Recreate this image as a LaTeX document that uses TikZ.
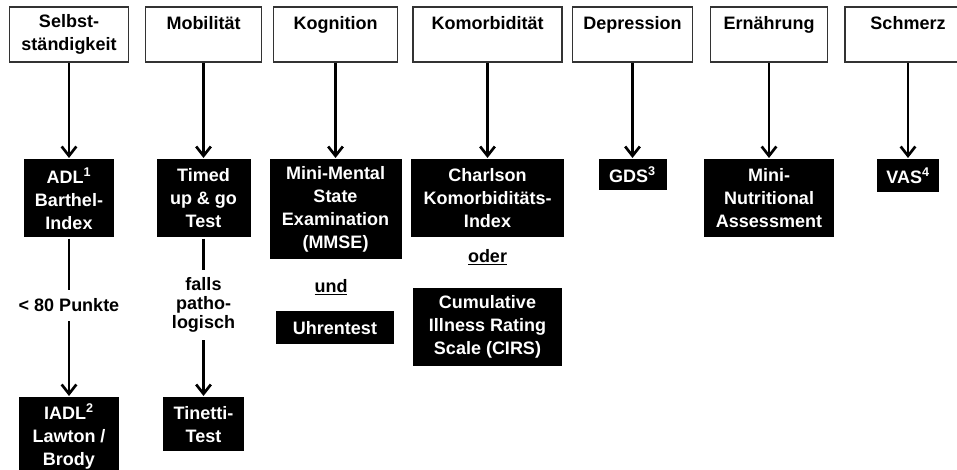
\documentclass[tikz,border=0pt]{standalone}
\usepackage{fontspec}
\setmainfont{Liberation Sans}
\usepackage{tikz}
\usetikzlibrary{arrows.meta}
\usetikzlibrary{positioning}

\begin{document}
\begin{tikzpicture}
		[x=0.75pt, y=-0.75pt,
		line width=2pt,
		> = {Straight Barb[length=7pt,width=11pt]},
		every node/.style={font=\fontsize{13.5}{17.25}\selectfont\bfseries},
		bereich/.style = {draw=black!80, line width=1pt, fill=white, minimum height=41.25pt, align=center, inner sep=0pt},
		test/.style = {fill=black, text=white, align=center, inner sep=0pt, anchor=north},
		hinweis/.style = {align=center, inner xsep=1pt, font=\fontsize{13.5}{14.25}\selectfont\bfseries}
		]
		\useasboundingbox (0,0) rectangle (957,470);
		\clip (0,0) rectangle (957,470);

		% Bereiche
		\node[bereich, minimum width=89.25pt] (selbst) at (69,34.5) {Selbst-\\ständigkeit};
		\node[bereich, minimum width=87pt] (mobil) at (203.5,34.5) {Mobilität\\\mbox{}};
		\node[bereich, minimum width=93pt] (kogn) at (335.5,34.5) {Kognition\\\mbox{}};
		\node[bereich, minimum width=111.75pt] (komorb) at (487.5,34.5) {Komorbidität\\\mbox{}};
		\node[bereich, minimum width=90pt] (depr) at (632.5,34.5) {Depression\\\mbox{}};
		\node[bereich, minimum width=87.75pt] (ernaehr) at (769,34.5) {Ernährung\\\mbox{}};
		\node[bereich, minimum width=94.5pt] (schmerz) at (908,34.5) {Schmerz\\\mbox{}};

		% Tests
		\node[test, minimum width=67.5pt, minimum height=58.5pt] (adl) at (69,158) {ADL\textsuperscript{1}\\Barthel-\\Index};
		\node[test, minimum width=70.5pt, minimum height=58.5pt] (tug) at (203.5,158) {Timed\\up \& go\\Test};
		\node[test, minimum width=99pt, minimum height=75pt] (mmse) at (335.5,158) {Mini-Mental\\State\\Examination\\(MMSE)};
		\node[test, minimum width=114.75pt, minimum height=58.5pt] (cci) at (487.5,158) {Charlson\\Komorbiditäts-\\Index};
		\node[test, minimum width=51pt, minimum height=23.25pt] (gds) at (632.5,158) {GDS\textsuperscript{3}};
		\node[test, minimum width=97.5pt, minimum height=58.5pt] (mna) at (769,158) {Mini-\\Nutritional\\Assessment};
		\node[test, minimum width=46.5pt, minimum height=24.75pt] (vas) at (908,158) {VAS\textsuperscript{4}};

		% zweite Stufe
		\node[hinweis, inner ysep=6pt] (punkte) at (69,305.5) {< 80 Punkte};
		\node[hinweis, inner ysep=5pt] (falls) at (203.5,305) {falls\\patho-\\logisch};
		\node[test, minimum width=75pt, minimum height=58.5pt] (iadl) at (69,396) {IADL\textsuperscript{2}\\Lawton /\\Brody};
		\node[test, minimum width=60.75pt, minimum height=40.5pt] (tinetti) at (203.5,396) {Tinetti-\\Test};
		\node (und) at (331,287) {\underline{und}};
		\node[test, minimum width=88.5pt, minimum height=24.75pt] (uhr) at (335,310) {Uhrentest};
		\node (oder) at (487.5,257) {\underline{oder}};
		\node[test, minimum width=111.75pt, minimum height=58.5pt] (cirs) at (487.5,287) {Cumulative\\Illness Rating\\Scale (CIRS)};

		% Pfeile
		\draw[->] (selbst) -- (adl);
		\draw[->] (mobil) -- (tug);
		\draw[->] (kogn) -- (mmse);
		\draw[->] (komorb) -- (cci);
		\draw[->] (depr) -- (gds);
		\draw[->] (ernaehr) -- (mna);
		\draw[->] (schmerz) -- (vas);
		\draw (adl) -- (punkte);
		\draw[->] (punkte) -- (iadl);
		\draw (tug) -- (falls);
		\draw[->] (falls) -- (tinetti);
\end{tikzpicture}
\end{document}
